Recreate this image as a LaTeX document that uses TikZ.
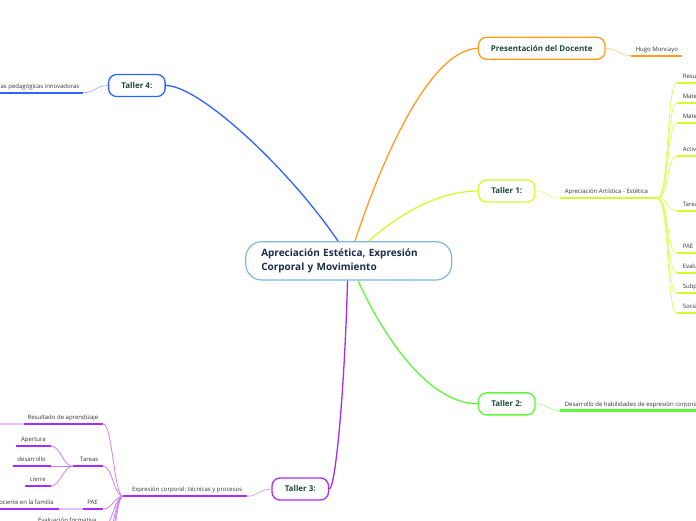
\documentclass[tikz,border=0pt]{standalone}
\usepackage{fontspec}
\setmainfont{Open Sans}
\definecolor{cblue}{HTML}{2E64FF}
\definecolor{corange}{HTML}{FF9B21}
\definecolor{cyell}{HTML}{D2FA2E}
\definecolor{cgreen}{HTML}{5EF53A}
\definecolor{cpurp}{HTML}{A82BF7}
\definecolor{cmain}{HTML}{7DB9E3}
\definecolor{ctext}{HTML}{1C2B4E}
\definecolor{cbox}{HTML}{1E4A3C}
\definecolor{csmall}{HTML}{333333}
\begin{document}
\begin{tikzpicture}[x=1pt,y=-1pt,
 topic/.style={draw, line width=1.3pt, rounded corners=8pt, fill=white, text=cbox,
   font=\fontsize{8}{10}\selectfont\bfseries, minimum height=22pt, minimum width=56.5pt, inner sep=0pt},
 mainnode/.style={draw=cmain, line width=1.2pt, rounded corners=16pt, fill=white, text=ctext,
   font=\fontsize{10}{14}\selectfont\bfseries, minimum height=38.3pt, text width=175pt, align=left,
   inner xsep=15.5pt, inner ysep=0pt},
 lbl/.style={font=\fontsize{6}{7}\selectfont, text=csmall, inner sep=0pt},
 trunk/.style={line width=1.3pt},
 uline/.style={line width=2.2pt},
 twig/.style={line width=0.8pt},
]
\useasboundingbox (0,0) rectangle (696,520);
\clip (0,0) rectangle (696,520);

% ---------- main topics ----------
\node[mainnode] (main) at (348.75,260.85) {Apreciación Estética, Expresión\\Corporal y Movimiento};
\node[topic, draw=cblue] (t4) at (136.85,85.5) {Taller 4:};
\node[topic, draw=corange, minimum width=126.5pt] (pres) at (541.75,48.3) {Presentación del Docente};
\node[topic, draw=cyell] (t1) at (506.75,191) {Taller 1:};
\node[topic, draw=cgreen] (t2) at (506.75,403.85) {Taller 2:};
\node[topic, draw=cpurp] (t3) at (300.25,489) {Taller 3:};

\draw[trunk, cblue] ([xshift=-10.75pt]main.north) .. controls (290,170) and (200,85.5) .. (t4.east);
\draw[trunk, corange] ([xshift=6.25pt]main.north) .. controls (375,180) and (425,50) .. (pres.west);
\draw[trunk, cyell] ([xshift=19.6pt]main.north) .. controls (395,218) and (435,191) .. (t1.west);
\draw[trunk, cgreen] ([xshift=9.25pt]main.south) .. controls (385,340) and (430,403.85) .. (t2.west);
\draw[trunk, cpurp] ([xshift=-1.25pt]main.south) .. controls (345,380) and (336,489) .. (t3.east);

% ---------- Taller 4 ----------
\coordinate (u4l) at (-5,92.7); \coordinate (u4r) at (83,92.7);
\draw[uline, cblue] (u4l) -- (u4r);
\node[lbl, anchor=base east] (s4) at (79.5,88.2) {Estrategias pedagógicas innovadoras};
\draw[twig, cblue!45] (t4.west) .. controls +(-12,0) and +(12,0) .. (u4r);

% ---------- Presentacion ----------
\coordinate (uhl) at (631,55.7); \coordinate (uhr) at (682,55.7);
\draw[uline, corange] (uhl) -- (uhr);
\node[lbl, anchor=base west] (hugo) at (635.6,51.2) {Hugo Moncayo};
\draw[twig, corange!45] (pres.east) .. controls +(12,0) and +(-12,0) .. (uhl);

% ---------- Taller 1 ----------
\coordinate (u1l) at (560,198.3); \coordinate (u1r) at (657,198.3);
\draw[uline, cyell] (u1l) -- (u1r);
\node[lbl, anchor=base west] (s1) at (564.6,193.8) {Apreciación Artística - Estética};
\draw[twig, cyell!60] (t1.east) .. controls +(12,0) and +(-12,0) .. (u1l);
\foreach \yy/\tt [count=\i] in {82.7/Resultado de aprendizaje, 103.3/Materiales, 123.3/Materiales de apoyo,
   156/Actividades, 210.7/Tareas, 253.3/PAE, 273.3/Evaluación, 293.3/Subproductos, 313.3/Socialización}{
  \coordinate (c1\i) at (677,\yy);
  \coordinate (d1\i) at (710,\yy);
  \draw[twig, cyell!75] (u1r) .. controls +(13,0) and +(-11,0) .. (c1\i);
  \draw[uline, cyell] (c1\i) -- (d1\i);
  \node[lbl, anchor=base west] (n1\i) at (682.6,\yy-4.5) {\tt};
}

% ---------- Taller 2 ----------
\coordinate (u2l) at (560,410.7); \coordinate (u2r) at (710,410.7);
\draw[uline, cgreen, line width=2.6pt] (u2l) -- (u2r);
\node[lbl, anchor=base west] (s2) at (564.6,406.2) {Desarrollo de habilidades de expresión corporal};
\draw[twig, cgreen!50] (t2.east) .. controls +(12,0) and +(-12,0) .. (u2l);

% ---------- Taller 3 ----------
\coordinate (u3l) at (123,496.3); \coordinate (u3r) at (246.7,496.3);
\draw[uline, cpurp] (u3l) -- (u3r);
\node[lbl, anchor=base west] (s3) at (131.8,491.8) {Expresión corporal: técnicas y procesos};
\draw[twig, cpurp!45] (t3.west) .. controls +(-12,0) and +(12,0) .. (u3r);

% Resultado de aprendizaje
\coordinate (ra1) at (24,424); \coordinate (ra2) at (103.4,424); \coordinate (ra0) at (-10,424);
\draw[uline, cpurp] (ra1) -- (ra2);
\draw[uline, cpurp!30] (ra0) -- (ra1);
\node[lbl, anchor=base east] (nra) at (98.5,419.5) {Resultado de aprendizaje};
% Tareas
\coordinate (ta1) at (73,466.3); \coordinate (ta2) at (103.4,466.3);
\draw[uline, cpurp] (ta1) -- (ta2);
\node[lbl, anchor=base east] (nta) at (98.5,461.8) {Tareas};
% PAE
\coordinate (pa1) at (83.3,509); \coordinate (pa2) at (103.4,509);
\coordinate (pd1) at (-10,509); \coordinate (pd2) at (59,509);
\draw[uline, cpurp] (pa1) -- (pa2);
\draw[uline, cpurp!30] (pd2) -- (pa1);
\draw[uline, cpurp] (pd1) -- (pd2);
\node[lbl, anchor=base east] (npa) at (98,504.5) {PAE};
\node[lbl, anchor=base east] (npd) at (54,504.5) {Rol del docente en la familia};
% Evaluacion formativa
\coordinate (ev2) at (103.4,527);
\node[lbl, anchor=base east] (nev) at (96.7,522.5) {Evaluación formativa};
\coordinate (x1) at (103.4,548); \coordinate (x2) at (103.4,568); \coordinate (x3) at (103.4,590);

\foreach \c in {ra2,ta2,pa2,ev2,x1,x2,x3}{
  \draw[twig, cpurp!60] (u3l) .. controls +(-9,0) and +(9,0) .. (\c);
}

% Tareas children
\coordinate (ap1) at (16,446); \coordinate (ap2) at (50.7,446);
\coordinate (de1) at (13.3,466.3); \coordinate (de2) at (50.7,466.3);
\coordinate (ci1) at (25,486); \coordinate (ci2) at (50.7,486);
\draw[uline, cpurp] (ap1) -- (ap2);
\draw[uline, cpurp] (de1) -- (de2);
\draw[uline, cpurp] (ci1) -- (ci2);
\node[lbl, anchor=base east] (nap) at (46,441.5) {Apertura};
\node[lbl, anchor=base east] (nde) at (46,461.8) {desarrollo};
\node[lbl, anchor=base east] (nci) at (46,481.5) {cierre};
\foreach \c in {ap2,de2,ci2}{
  \draw[twig, cpurp!60] (ta1) .. controls +(-10,0) and +(10,0) .. (\c);
}
\end{tikzpicture}
\end{document}
